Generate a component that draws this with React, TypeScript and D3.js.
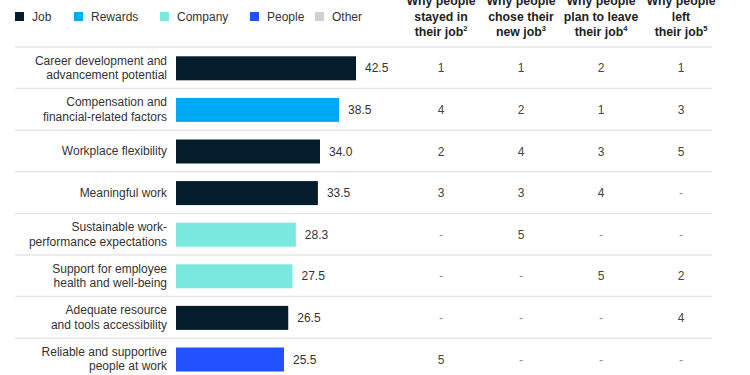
import React from "react";
import * as d3 from "d3";

const categories = [
  ["Career development and", "advancement potential"],
  ["Compensation and", "financial-related factors"],
  ["Workplace flexibility"],
  ["Meaningful work"],
  ["Sustainable work-", "performance expectations"],
  ["Support for employee", "health and well-being"],
  ["Adequate resource", "and tools accessibility"],
  ["Reliable and supportive", "people at work"],
];
const values = [42.5, 38.5, 34.0, 33.5, 28.3, 27.5, 26.5, 25.5];
const groups = ["Job", "Rewards", "Job", "Job", "Company", "Company", "Job", "People"];
const legendItems = ["Job", "Rewards", "Company", "People", "Other"];
const legendColors = ["#051c2c", "#00a9f4", "#7be8e0", "#2251ff", "#d0d0d0"];
const columnHeaders = [
  ["Why people", "stayed in", "their job", "2"],
  ["Why people", "chose their", "new job", "3"],
  ["Why people", "plan to leave", "their job", "4"],
  ["Why people", "left", "their job", "5"],
];
const stayed = ["1", "4", "2", "3", "-", "-", "-", "5"];
const chose = ["1", "2", "4", "3", "5", "-", "-", "-"];
const planLeave = ["2", "1", "3", "4", "-", "5", "-", "-"];
const left = ["1", "3", "5", "-", "-", "2", "4", "-"];
const tableCols = [stayed, chose, planLeave, left];

const FONT = "'Liberation Sans', Arial, sans-serif";

export default function App() {
  const W = 750, H = 375;
  const color = d3.scaleOrdinal<string, string>().domain(legendItems).range(legendColors);
  const x = d3.scaleLinear().domain([0, 42.5]).range([176, 356]);
  const y = d3.scaleBand<number>().domain(d3.range(categories.length)).range([47, 47 + 8 * 41.6]).paddingInner(0).paddingOuter(0);
  const colX = d3.scalePoint<number>().domain(d3.range(4)).range([441, 681]);
  const bw = y.bandwidth();
  const barH = 24;
  const legendX = [15, 74, 160, 250, 315];

  return (
    <svg width={W} height={H} style={{ position: "absolute", left: 0, top: 0, background: "#fff" }} fontFamily={FONT}>
      {/* legend */}
      {legendItems.map((k, i) => (
        <g key={k}>
          <rect x={legendX[i]} y={12} width={9} height={9} fill={color(k)} />
          <text x={legendX[i] + 17} y={20.5} fontSize={12} fill="#333">{k}</text>
        </g>
      ))}
      {/* column headers */}
      {columnHeaders.map((h, i) => (
        <text key={i} x={colX(i)} textAnchor="middle" fontSize={12.3} fontWeight="bold" fill="#222">
          <tspan x={colX(i)} y={5}>{h[0]}</tspan>
          <tspan x={colX(i)} y={20.5}>{h[1]}</tspan>
          <tspan x={colX(i)} y={36}>{h[2]}</tspan>
          <tspan fontSize={7.5} dy={-5}>{h[3]}</tspan>
        </text>
      ))}
      {/* separators */}
      {d3.range(categories.length).map((i) => (
        <line key={i} x1={15} x2={712} y1={y(i)!} y2={y(i)!} stroke="#e6e6e6" strokeWidth={1.5} />
      ))}
      {/* rows */}
      {categories.map((lines, i) => {
        const cy = y(i)! + bw / 2;
        const lh = 14.5;
        const y0 = cy - ((lines.length - 1) * lh) / 2 + 4.2;
        return (
          <g key={i}>
            <text textAnchor="end" fontSize={12} fill="#333">
              {lines.map((l, j) => (
                <tspan key={j} x={167} y={y0 + j * lh}>{l}</tspan>
              ))}
            </text>
            <rect x={x(0)} y={cy - barH / 2 + 0.5} width={x(values[i]) - x(0)} height={barH} fill={color(groups[i])} />
            <text x={x(values[i]) + 9} y={cy + 4.5} fontSize={12} fill="#333">{values[i].toFixed(1)}</text>
            {tableCols.map((col, c) => (
              <text key={c} x={colX(c)} y={cy + 4.5} textAnchor="middle" fontSize={12} fill={col[i] === "-" ? "#888" : "#444"}>
                {col[i]}
              </text>
            ))}
          </g>
        );
      })}
    </svg>
  );
}
